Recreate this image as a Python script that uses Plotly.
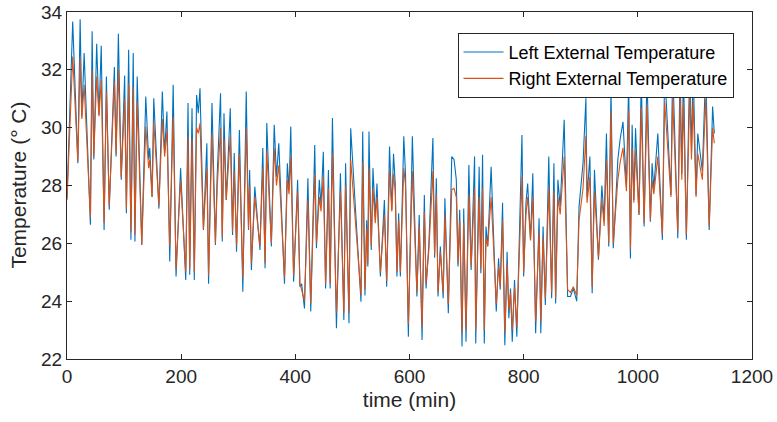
import plotly.graph_objects as go

time_min = [0, 10, 19, 23, 26, 30, 41, 44, 47, 52, 56, 60, 65, 69, 74, 83, 86, 90, 95, 101,
            104, 108, 112, 116, 119, 123, 131, 138, 143, 145, 149, 152, 161, 167, 171, 175, 180, 186, 191, 199,
            208, 212, 215, 219, 223, 227, 230, 233, 239, 245, 248, 254, 260, 263, 269, 272, 275, 279, 286, 290,
            293, 297, 302, 308, 314, 318, 320, 323, 329, 338, 343, 347, 350, 358, 363, 367, 371, 381, 386, 389,
            392, 397, 404, 408, 411, 416, 422, 427, 434, 437, 442, 445, 449, 453, 458, 461, 465, 472, 479, 485,
            488, 494, 497, 510, 515, 518, 522, 525, 527, 529, 533, 536, 540, 543, 549, 556, 560, 565, 569, 572,
            575, 578, 581, 584, 590, 593, 598, 605, 613, 617, 622, 626, 629, 634, 641, 644, 647, 650, 654, 659,
            662, 668, 674, 678, 682, 685, 688, 692, 695, 699, 704, 708, 714, 716, 722, 725, 728, 731, 734, 737,
            743, 752, 756, 759, 763, 767, 771, 774, 777, 780, 784, 788, 797, 800, 804, 807, 812, 816, 821, 827,
            830, 834, 838, 844, 849, 853, 856, 860, 864, 871, 877, 882, 887, 893, 897, 904, 909, 911, 916, 920,
            924, 931, 937, 941, 945, 949, 953, 957, 965, 969, 974, 980, 984, 987, 990, 993, 996, 1002, 1006, 1011,
            1016, 1022, 1025, 1028, 1035, 1043, 1047, 1058, 1061, 1070, 1074, 1077, 1080, 1085, 1091, 1094, 1097, 1102, 1105, 1113,
            1119, 1125, 1131, 1134]

left_temp = [27.56, 33.67, 28.77, 33.75, 30.39, 32.58, 26.64, 33.33, 28.9, 32.9, 30.44, 32.83, 26.46, 31.77, 27.16, 32.1, 29.0, 33.25, 28.2, 31.8,
             27.04, 32.69, 26.12, 32.58, 26.06, 31.77, 25.94, 31.08, 28.9, 29.3, 27.6, 31.02, 27.2, 31.25, 29.12, 30.56, 25.37, 31.48, 24.85, 28.6,
             24.73, 30.85, 24.91, 30.67, 24.73, 31.13, 30.5, 31.36, 26.46, 29.46, 24.6, 30.85, 25.94, 28.3, 31.19, 26.06, 30.5, 27.5, 30.67, 26.29,
             29.12, 25.71, 29.92, 24.33, 31.25, 26.46, 28.54, 25.08, 27.96, 25.77, 29.3, 25.14, 30.16, 25.89, 30.1, 28.3, 29.46, 24.6, 28.77, 27.85,
             30.04, 24.67, 28.2, 24.5, 24.6, 23.75, 28.25, 23.64, 29.4, 25.83, 28.2, 27.3, 29.17, 24.44, 28.54, 24.44, 30.33, 23.06, 28.42, 23.35,
             28.77, 23.24, 29.98, 25.66, 23.98, 29.87, 24.2, 26.8, 25.2, 29.87, 25.77, 28.6, 26.9, 28.07, 24.85, 27.5, 24.5, 29.35, 27.16, 29.1,
             28.07, 24.85, 27.04, 24.85, 29.7, 28.4, 22.77, 29.7, 24.16, 26.98, 22.66, 27.67, 24.44, 26.0, 29.64, 25.5, 28.25, 24.16, 25.89, 24.1,
             27.56, 23.58, 29.0, 28.9, 28.2, 25.2, 27.16, 22.43, 27.2, 22.6, 28.71, 25.08, 29.0, 22.54, 28.65, 24.97, 29.06, 22.54, 26.58, 25.89,
             28.65, 23.64, 25.48, 24.4, 27.4, 22.48, 25.71, 23.41, 24.44, 22.6, 24.73, 22.77, 29.75, 24.85, 27.39, 28.07, 26.12, 28.42, 22.89, 26.87,
             22.89, 26.58, 23.87, 29.0, 24.1, 28.77, 23.92, 28.2, 27.27, 30.27, 24.16, 24.16, 24.44, 24.0, 27.27, 28.77, 31.02, 27.6, 29.0, 24.27,
             28.54, 25.43, 28.0, 26.8, 29.8, 25.89, 31.36, 25.83, 28.9, 29.6, 30.2, 27.96, 31.6, 25.48, 30.1, 27.5, 29.98, 26.98, 31.8, 26.58,
             31.9, 26.75, 28.77, 27.9, 29.8, 26.12, 32.0, 27.67, 32.2, 26.18, 32.3, 28.4, 32.0, 26.12, 32.3, 29.2, 32.0, 27.67, 29.8, 28.5,
             32.1, 26.46, 30.73, 29.8]

right_temp = [27.5, 32.46, 28.85, 32.4, 30.3, 31.48, 26.9, 32.0, 29.0, 31.77, 30.4, 31.65, 26.7, 31.25, 27.3, 31.6, 29.1, 32.0, 28.3, 31.0,
              27.2, 31.54, 26.4, 31.4, 26.3, 30.9, 25.95, 30.04, 28.6, 28.9, 27.6, 30.2, 27.3, 30.3, 29.0, 29.9, 25.9, 30.39, 25.1, 28.2,
              25.0, 29.7, 25.1, 29.6, 25.0, 30.0, 29.8, 30.15, 26.5, 28.6, 24.9, 29.8, 26.0, 27.9, 30.0, 26.2, 29.6, 27.5, 29.7, 26.4,
              28.5, 25.9, 29.1, 24.8, 29.98, 26.5, 28.0, 25.3, 27.6, 25.9, 28.6, 25.3, 29.2, 26.0, 29.3, 28.0, 28.7, 24.8, 28.2, 27.7,
              29.0, 24.9, 27.8, 24.6, 24.4, 24.0, 27.5, 23.9, 28.4, 26.0, 27.6, 27.1, 28.3, 24.6, 27.9, 24.6, 29.12, 23.6, 27.8, 23.6,
              28.0, 23.6, 28.9, 25.7, 24.2, 28.8, 24.4, 26.5, 25.3, 28.6, 25.9, 27.9, 26.7, 27.6, 25.0, 27.0, 24.7, 28.5, 27.1, 28.4,
              27.8, 25.0, 26.8, 25.0, 28.6, 28.0, 23.2, 28.5, 24.3, 26.6, 23.1, 27.1, 24.6, 25.8, 28.5, 25.6, 27.7, 24.3, 25.7, 24.3,
              27.0, 23.9, 27.85, 27.9, 27.6, 25.3, 26.8, 22.9, 26.7, 23.0, 27.7, 25.2, 27.9, 23.0, 27.6, 25.1, 27.9, 23.0, 26.2, 25.9,
              27.6, 23.9, 25.2, 24.5, 26.8, 22.9, 25.3, 23.7, 24.3, 23.0, 24.5, 23.1, 28.3, 25.0, 27.0, 27.6, 26.1, 27.6, 23.3, 26.4,
              23.3, 26.2, 24.1, 27.9, 24.3, 27.8, 24.1, 27.6, 27.0, 29.0, 24.4, 24.3, 24.5, 24.2, 26.8, 27.9, 29.7, 27.4, 28.3, 24.5,
              27.8, 25.5, 27.5, 26.6, 28.9, 26.0, 30.56, 26.0, 28.2, 28.8, 29.3, 27.8, 30.6, 25.8, 29.3, 27.4, 29.2, 27.0, 30.7, 26.7,
              30.8, 26.8, 28.2, 27.7, 29.0, 26.3, 30.9, 27.6, 31.0, 26.4, 31.1, 28.2, 30.9, 26.3, 31.2, 28.9, 30.9, 27.6, 29.1, 28.2,
              31.0, 26.6, 30.0, 29.46]

x_ticks = [0, 200, 400, 600, 800, 1000, 1200]
y_ticks = [22, 24, 26, 28, 30, 32, 34]

FONT = "Liberation Sans, Arial, sans-serif"
AX = "#262626"

fig = go.Figure()
fig.add_trace(go.Scatter(x=time_min, y=left_temp, mode="lines", name="Left External Temperature",
                         line=dict(color="#0072BD", width=1.1)))
fig.add_trace(go.Scatter(x=time_min, y=right_temp, mode="lines", name="Right External Temperature",
                         line=dict(color="#D95319", width=1.1)))

axis_common = dict(showline=True, linecolor=AX, linewidth=1, mirror="ticks", ticks="inside",
                   ticklen=5, tickcolor=AX, tickwidth=1, showgrid=False, zeroline=False,
                   automargin=False, tickfont=dict(family=FONT, size=19, color=AX))

fig.update_layout(
    width=777, height=422,
    margin=dict(l=67, r=25, t=12, b=63, autoexpand=False),
    paper_bgcolor="white", plot_bgcolor="white",
    font=dict(family=FONT, size=19, color=AX),
    xaxis=dict(range=[0, 1200], tickvals=x_ticks, title=dict(text="time (min)", font=dict(size=21), standoff=6), **axis_common),
    yaxis=dict(range=[22, 34], tickvals=y_ticks, **axis_common),
    legend=dict(x=0.973, y=0.94, xanchor="right", yanchor="top", bgcolor="white",
                bordercolor=AX, borderwidth=1, font=dict(family=FONT, size=18, color="black"),
                tracegroupgap=0, itemwidth=40),
    showlegend=True,
    annotations=[dict(text="Temperature (° C)", xref="paper", yref="paper", x=-0.0714, y=0.5,
                      xanchor="center", yanchor="middle", textangle=-90, showarrow=False,
                      font=dict(family=FONT, size=21, color=AX))],
)

fig.write_html("out.html")
